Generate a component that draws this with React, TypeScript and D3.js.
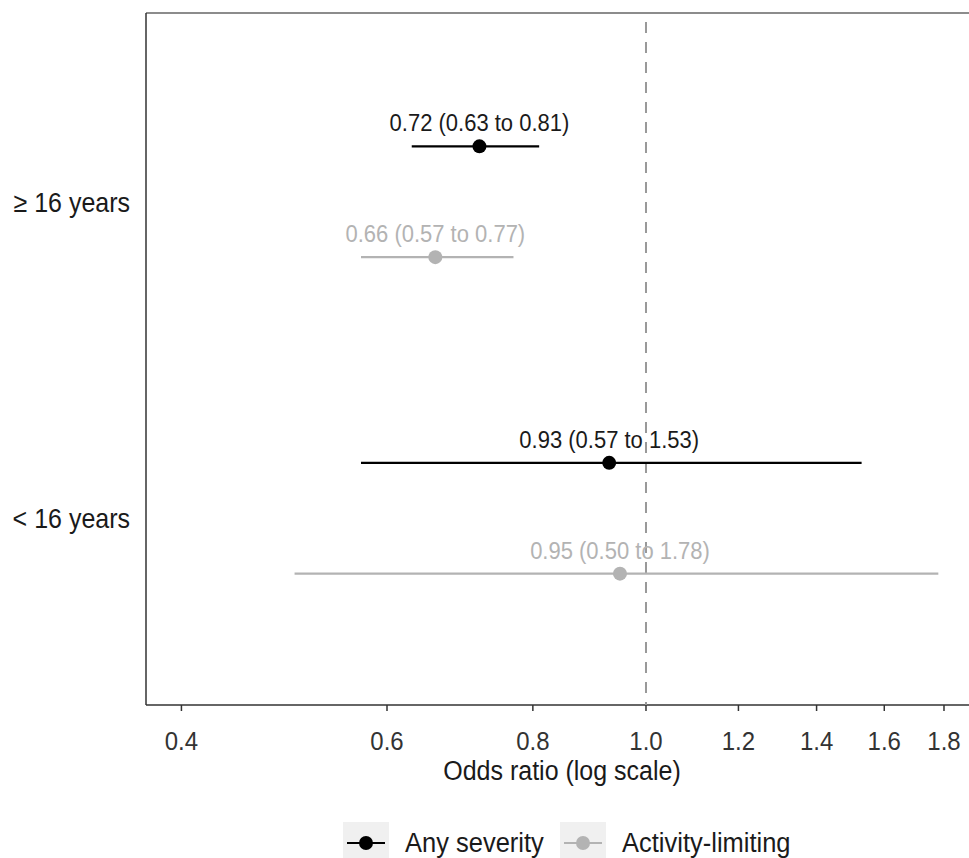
import React from "react";
import * as d3 from "d3";

const groups = ["≥ 16 years", "< 16 years"];
const seriesNames = ["Any severity", "Activity-limiting"];
const seriesColors = ["#000000", "#b3b3b3"];
const estimates = [
  { group: "≥ 16 years", series: "Any severity", or: 0.72, lo: 0.63, hi: 0.81 },
  { group: "≥ 16 years", series: "Activity-limiting", or: 0.66, lo: 0.57, hi: 0.77 },
  { group: "< 16 years", series: "Any severity", or: 0.93, lo: 0.57, hi: 1.53 },
  { group: "< 16 years", series: "Activity-limiting", or: 0.95, lo: 0.5, hi: 1.78 },
];
const xTicks = [0.4, 0.6, 0.8, 1.0, 1.2, 1.4, 1.6, 1.8];

const W = 969;
const H = 858;
const panel = { left: 146, top: 13, right: 969, bottom: 705 };

function T({ x, y, sy = 1.1, children, ...rest }: any) {
  return (
    <text transform={`translate(${x},${y}) scale(1,${sy})`} {...rest}>
      {children}
    </text>
  );
}

export default function App() {
  const x = d3.scaleLog().domain([0.373, 1.891]).range([panel.left, panel.right]);
  const y = d3.scalePoint<string>().domain(groups).range([15, panel.bottom]).padding(0.59);
  const dodge = d3
    .scaleBand<string>()
    .domain(seriesNames)
    .range([-y.step() * 0.35, y.step() * 0.35]);
  const color = d3.scaleOrdinal<string, string>().domain(seriesNames).range(seriesColors);
  const fmt = d3.format(".2f");
  const font = "'Liberation Sans', Arial, Helvetica, sans-serif";

  return (
    <svg width={W} height={H} style={{ position: "absolute", left: 0, top: 0, fontFamily: font }}>
      <rect x={0} y={0} width={W} height={H} fill="#ffffff" />
      {/* panel border */}
      <line x1={panel.left} x2={W} y1={panel.top} y2={panel.top} stroke="#8c8c8c" strokeWidth={2.2} />
      <line x1={panel.left} x2={panel.left} y1={panel.top} y2={panel.bottom} stroke="#333" strokeWidth={1.5} />
      <line x1={panel.left} x2={W} y1={panel.bottom} y2={panel.bottom} stroke="#333" strokeWidth={1.5} />
      {/* reference line */}
      <line
        x1={x(1)}
        x2={x(1)}
        y1={panel.top + 9}
        y2={panel.bottom}
        stroke="#999"
        strokeWidth={2}
        strokeDasharray="11 9"
      />
      {/* estimates */}
      {estimates.map((d, i) => {
        const cy = (y(d.group) as number) + (dodge(d.series) as number) + dodge.bandwidth() / 2;
        const c = color(d.series);
        return (
          <g key={i}>
            <line x1={x(d.lo)} x2={x(d.hi)} y1={cy} y2={cy} stroke={c} strokeWidth={2.2} />
            <circle cx={x(d.or)} cy={cy} r={7} fill={c} />
            <T
              x={x(d.or)}
              y={cy - 15}
              sy={1.05}
              textAnchor="middle"
              fontSize={22}
              fill={d.series === "Any severity" ? "#1a1a1a" : "#b3b3b3"}
            >
              {`${fmt(d.or)} (${fmt(d.lo)} to ${fmt(d.hi)})`}
            </T>
          </g>
        );
      })}
      {/* y axis labels */}
      {groups.map((g) => (
        <T key={g} x={panel.left - 16} y={(y(g) as number) + 10} textAnchor="end" fontSize={25} fill="#1a1a1a">
          {g}
        </T>
      ))}
      {/* x axis */}
      {xTicks.map((t) => (
        <g key={t}>
          <line x1={x(t)} x2={x(t)} y1={panel.bottom} y2={panel.bottom + 6} stroke="#333" strokeWidth={1.5} />
          <T x={x(t)} y={panel.bottom + 45} sy={1.1} textAnchor="middle" fontSize={24} fill="#333">
            {d3.format(".1f")(t)}
          </T>
        </g>
      ))}
      <T x={562} y={panel.bottom + 75} sy={1.08} textAnchor="middle" fontSize={25} fill="#1a1a1a">
        Odds ratio (log scale)
      </T>
      {/* legend */}
      {seriesNames.map((s, i) => {
        const lx = i === 0 ? 343 : 560;
        return (
          <g key={s}>
            <rect x={lx} y={822} width={46} height={40} fill="#f0f0f0" />
            <line x1={lx + 4} x2={lx + 42} y1={843} y2={843} stroke={color(s)} strokeWidth={2.2} />
            <circle cx={lx + 23} cy={843} r={7} fill={color(s)} />
            <T x={lx + 62} y={852} sy={1.1} fontSize={25.5} fill="#1a1a1a">
              {s}
            </T>
          </g>
        );
      })}
    </svg>
  );
}
